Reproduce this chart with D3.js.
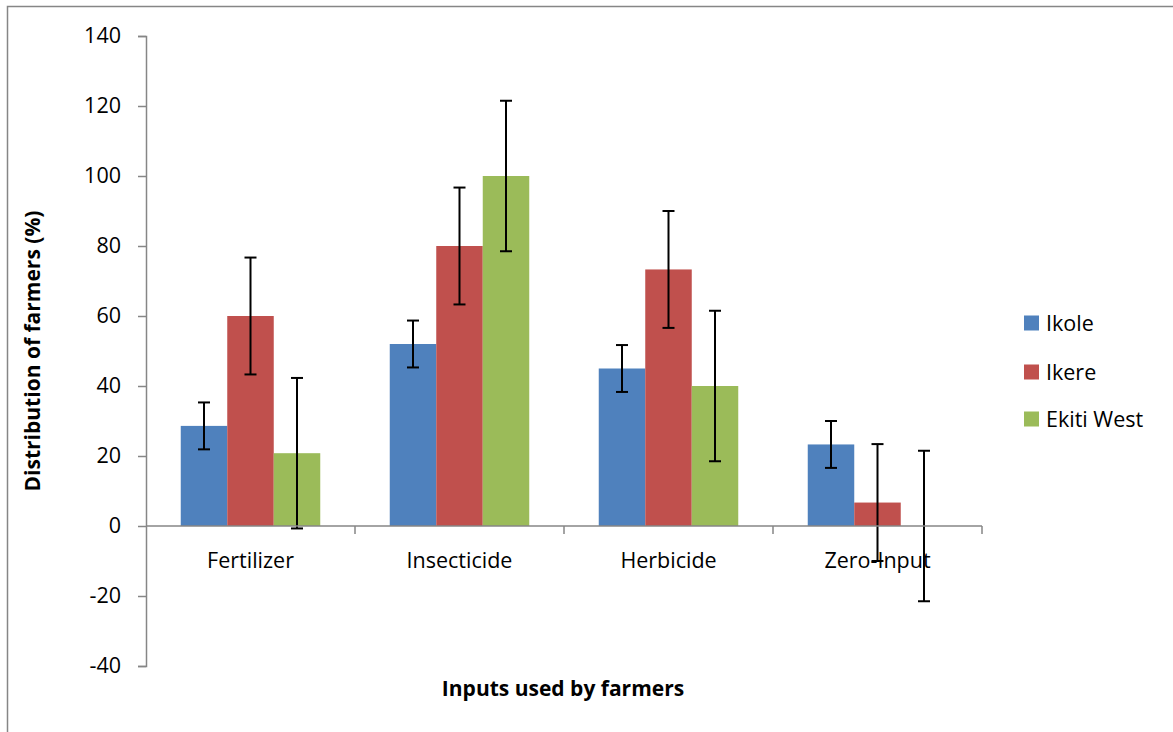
<!DOCTYPE html>
<html>
<head>
<meta charset="utf-8">
<script src="https://cdn.jsdelivr.net/npm/d3@7"></script>
<style>
  body { margin: 0; background: #fff; }
  text { font-family: "Open Sans", "Noto Sans", sans-serif; }
</style>
</head>
<body>
<div id="chart"></div>
<script>
const categories = ["Fertilizer", "Insecticide", "Herbicide", "Zero-Input"];
const seriesNames = ["Ikole", "Ikere", "Ekiti West"];
const ikole = [28.6, 52, 45, 23.3];
const ikere = [60, 80, 73.3, 6.7];
const ekitiWest = [20.8, 100, 40, 0];
const ikoleErr = [6.7, 6.7, 6.7, 6.7];
const ikereErr = [16.7, 16.7, 16.7, 16.7];
const ekitiWestErr = [21.5, 21.5, 21.5, 21.5];
const yTicks = [-40, -20, 0, 20, 40, 60, 80, 100, 120, 140];

const colors = ["#4F81BD", "#C0504D", "#9BBB59"];
const W = 1173, H = 732;
const fs = "21.5px";

const svg = d3.select("#chart").append("svg")
  .attr("width", W).attr("height", H);

// chart frame
svg.append("rect")
  .attr("x", 7.5).attr("y", 6.5)
  .attr("width", W + 10).attr("height", H + 10)
  .attr("fill", "none").attr("stroke", "#868686").attr("stroke-width", 1.5);

const left = 146, right = 982;
const y = d3.scaleLinear().domain([-40, 140]).range([666, 36]);
const x0 = d3.scaleBand().domain(categories).range([left, right]).paddingInner(0).paddingOuter(0);
const x1 = d3.scaleBand().domain(seriesNames).range([34.75, x0.bandwidth() - 34.75]);

const rows = categories.map((c, i) => ({
  cat: c,
  vals: [
    {s: "Ikole", v: ikole[i], e: ikoleErr[i]},
    {s: "Ikere", v: ikere[i], e: ikereErr[i]},
    {s: "Ekiti West", v: ekitiWest[i], e: ekitiWestErr[i]}
  ]
}));

// Y axis
const yAxis = svg.append("g")
  .attr("transform", `translate(${left},0)`)
  .call(d3.axisLeft(y).tickValues(yTicks).tickSize(8).tickPadding(10).tickFormat(d => String(d)));
yAxis.select(".domain").attr("stroke", "#868686").attr("stroke-width", 1.5);
yAxis.selectAll(".tick line").attr("stroke", "#868686").attr("stroke-width", 1.5);
yAxis.selectAll(".tick text").style("font-size", fs).attr("fill", "#000").attr("dx", "-7");

// bars
const groups = svg.selectAll(".grp").data(rows).enter().append("g")
  .attr("transform", d => `translate(${x0(d.cat)},0)`);

groups.selectAll("rect").data(d => d.vals).enter().append("rect")
  .attr("x", d => x1(d.s))
  .attr("width", x1.bandwidth())
  .attr("y", d => y(Math.max(0, d.v)))
  .attr("height", d => Math.abs(y(d.v) - y(0)))
  .attr("fill", (d, i) => colors[i]);

// X axis
const xAxis = svg.append("g").attr("transform", `translate(0,${y(0)})`);
xAxis.append("line").attr("x1", left).attr("x2", right)
  .attr("stroke", "#868686").attr("stroke-width", 1.5);
xAxis.selectAll(".xt").data(categories).enter().append("line")
  .attr("x1", d => x0(d) + x0.bandwidth()).attr("x2", d => x0(d) + x0.bandwidth())
  .attr("y1", 0).attr("y2", 8)
  .attr("stroke", "#868686").attr("stroke-width", 1.5);
xAxis.selectAll(".xl").data(categories).enter().append("text")
  .attr("x", d => x0(d) + x0.bandwidth() / 2)
  .attr("y", 42)
  .attr("text-anchor", "middle")
  .style("font-size", fs)
  .text(d => d);

// error bars
const cap = 6;
const errs = groups.selectAll(".err").data(d => d.vals).enter().append("g")
  .attr("stroke", "#000").attr("stroke-width", 2);
errs.append("line")
  .attr("x1", d => x1(d.s) + x1.bandwidth() / 2).attr("x2", d => x1(d.s) + x1.bandwidth() / 2)
  .attr("y1", d => y(d.v + d.e)).attr("y2", d => y(d.v - d.e));
errs.append("line")
  .attr("x1", d => x1(d.s) + x1.bandwidth() / 2 - cap).attr("x2", d => x1(d.s) + x1.bandwidth() / 2 + cap)
  .attr("y1", d => y(d.v + d.e)).attr("y2", d => y(d.v + d.e));
errs.append("line")
  .attr("x1", d => x1(d.s) + x1.bandwidth() / 2 - cap).attr("x2", d => x1(d.s) + x1.bandwidth() / 2 + cap)
  .attr("y1", d => y(d.v - d.e)).attr("y2", d => y(d.v - d.e));

// axis titles
svg.append("text")
  .attr("transform", `translate(40,${(36 + 666) / 2}) rotate(-90)`)
  .attr("text-anchor", "middle")
  .style("font-size", "21px").style("font-weight", "bold")
  .text("Distribution of farmers (%)");

svg.append("text")
  .attr("x", 563).attr("y", 696)
  .attr("text-anchor", "middle")
  .style("font-size", "21px").style("font-weight", "bold")
  .text("Inputs used by farmers");

// legend
const legendY = [323, 372, 419];
const legend = svg.selectAll(".leg").data(seriesNames).enter().append("g")
  .attr("transform", (d, i) => `translate(1024,${legendY[i]})`);
legend.append("rect").attr("x", 0).attr("y", -7.5).attr("width", 15).attr("height", 15)
  .attr("fill", (d, i) => colors[i]);
legend.append("text").attr("x", 22).attr("y", 0).attr("dy", "0.35em")
  .style("font-size", fs).text(d => d);
</script>
</body>
</html>
